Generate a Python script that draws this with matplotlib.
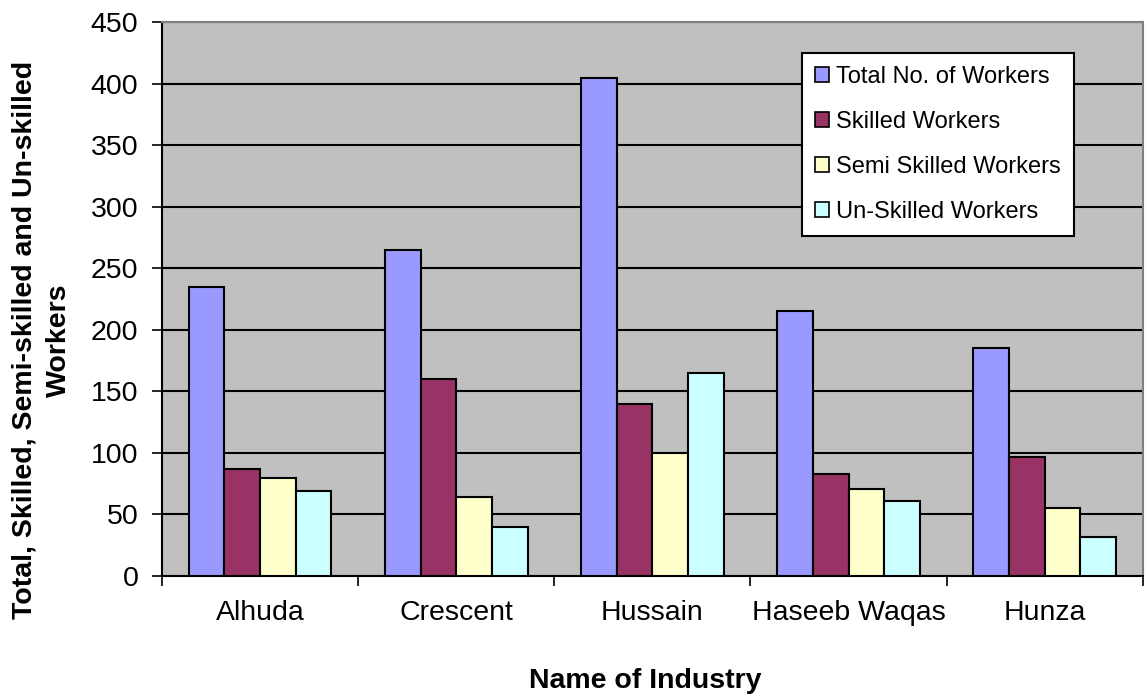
import matplotlib
matplotlib.use("Agg")
import matplotlib.pyplot as plt
import numpy as np

plt.rcParams['font.family'] = ['Liberation Sans', 'DejaVu Sans']

industries = ['Alhuda', 'Crescent', 'Hussain', 'Haseeb Waqas', 'Hunza']
total = [235, 265, 405, 215, 185]
skilled = [87, 160, 140, 83, 97]
semi = [80, 64, 100, 71, 55]
unskilled = [69, 40, 165, 61, 32]
series_names = ['Total No. of Workers', 'Skilled Workers',
                'Semi Skilled Workers', 'Un-Skilled Workers']
colors = ['#9999FF', '#993366', '#FFFFCC', '#CCFFFF']

fig = plt.figure(figsize=(11.45, 6.96), dpi=100)
ax = fig.add_axes([0.1415, 0.1724, 0.8565, 0.7956])
ax.set_facecolor('#C0C0C0')

x = np.arange(len(industries))
w = 0.182
for i, (vals, name, c) in enumerate(zip([total, skilled, semi, unskilled], series_names, colors)):
    ax.bar(x + (i - 1.5) * w, vals, w, color=c, edgecolor='black', linewidth=1.5,
           label=name, zorder=3)

ax.set_xlim(-0.5, len(industries) - 0.5)
ax.set_ylim(0, 450)
ax.set_yticks(np.arange(0, 451, 50))
ax.yaxis.grid(True, color='black', linewidth=1.5, zorder=0)
ax.set_axisbelow(True)

# ticks at category boundaries, labels at centers
ax.set_xticks(np.arange(-0.5, len(industries) + 0.5, 1))
ax.set_xticklabels([])
ax.set_xticks(x, minor=True)
ax.set_xticklabels(industries, minor=True, fontsize=20.5)
ax.tick_params(axis='x', which='minor', length=0, pad=17)
ax.tick_params(axis='x', which='major', length=7, width=1.2, direction='out')
ax.tick_params(axis='y', length=7, width=1.2, direction='out', labelsize=20.5, pad=10)

for s in ['left', 'bottom']:
    ax.spines[s].set_color('black')
    ax.spines[s].set_linewidth(1.5)
for s in ['top', 'right']:
    ax.spines[s].set_color('#808080')
    ax.spines[s].set_linewidth(1.5)

fig.text(645 / 1145, 1 - 681 / 696, 'Name of Industry', fontsize=20.5,
         fontweight='bold', ha='center', va='center')
fig.text(42 / 1145, 1 - 340 / 696,
         'Total, Skilled, Semi-skilled and Un-skilled\nWorkers', fontsize=20.5,
         fontweight='bold', ha='center', va='center', rotation=90,
         multialignment='center', linespacing=1.4)

leg = ax.legend(loc='upper left', bbox_to_anchor=(802 / 1145, 1 - 53 / 696),
                bbox_transform=fig.transFigure, borderaxespad=0, fontsize=17,
                handlelength=0.6, handleheight=0.6, handletextpad=0.3,
                labelspacing=0.97, borderpad=0.55, fancybox=False,
                framealpha=1, edgecolor='black')
leg.get_frame().set_linewidth(1.5)
for h in leg.legend_handles:
    h.set_linewidth(1.2)

fig.savefig('out.png', dpi=100)
